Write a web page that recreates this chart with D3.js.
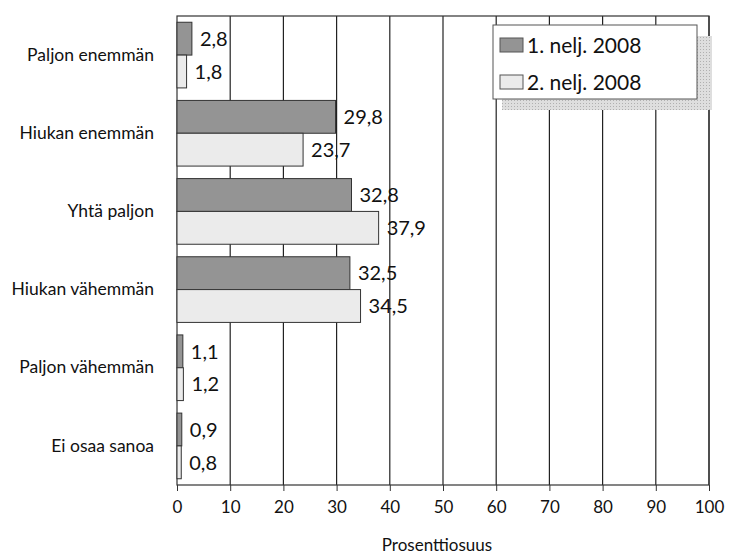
<!DOCTYPE html>
<html><head><meta charset="utf-8">
<script src="https://cdn.jsdelivr.net/npm/d3@7"></script>
<style>body{margin:0;background:#fff}svg{display:block}</style>
</head><body>
<script>
const categories = ["Paljon enemmän","Hiukan enemmän","Yhtä paljon","Hiukan vähemmän","Paljon vähemmän","Ei osaa sanoa"];
const seriesNames = ["1. nelj. 2008","2. nelj. 2008"];
const q1 = [2.8, 29.8, 32.8, 32.5, 1.1, 0.9];
const q2 = [1.8, 23.7, 37.9, 34.5, 1.2, 0.8];
const ticks = [0,10,20,30,40,50,60,70,80,90,100];
const colors = ["#949494","#ebebeb"];
const font = "Lato, 'DejaVu Sans', sans-serif";

const W=730,H=554;
const m={l:177,r:21,t:16,b:69};
const svg=d3.select("body").append("svg").attr("width",W).attr("height",H);
const defs=svg.append("defs");
const pat=defs.append("pattern").attr("id","shadowPat").attr("width",3).attr("height",3).attr("patternUnits","userSpaceOnUse");
pat.append("rect").attr("width",3).attr("height",3).attr("fill","#dedede");
pat.append("rect").attr("width",1).attr("height",1).attr("fill","#b0b0b0");
const x=d3.scaleLinear().domain([0,100]).range([m.l,W-m.r]);
const y=d3.scaleBand().domain(categories).range([m.t,H-m.b]).paddingInner(0.16).paddingOuter(0.08);
const y2=d3.scaleBand().domain([0,1]).range([0,y.bandwidth()]);

const g=svg.append("g");
g.selectAll("line.grid").data(ticks.slice(1)).join("line")
 .attr("x1",d=>x(d)).attr("x2",d=>x(d)).attr("y1",m.t).attr("y2",H-m.b)
 .attr("stroke","#222").attr("stroke-width",1.2);
g.append("rect").attr("x",m.l).attr("y",m.t).attr("width",x(100)-m.l).attr("height",H-m.b-m.t)
 .attr("fill","none").attr("stroke","#333").attr("stroke-width",1.2);

const data=[q1,q2];
categories.forEach((c,i)=>{
  data.forEach((s,j)=>{
    const v=s[i];
    const yy=y(c)+y2(j);
    g.append("rect").attr("x",x(0)).attr("y",yy).attr("width",x(v)-x(0)).attr("height",y2.bandwidth())
     .attr("fill",colors[j]).attr("stroke","#333").attr("stroke-width",1);
    g.append("text").attr("x",x(v)+8).attr("y",yy+y2.bandwidth()/2).attr("dy","0.36em")
     .attr("font-family",font).attr("font-size",20).attr("fill","#111")
     .text(String(v).replace(".",","));
  });
});

const xa=svg.append("g").attr("transform",`translate(0,${H-m.b})`)
 .call(d3.axisBottom(x).tickValues(ticks).tickSize(6).tickPadding(10));
xa.select(".domain").remove();
xa.selectAll("line").attr("stroke","#333");
xa.selectAll("text").attr("font-family",font).attr("font-size",17).attr("fill","#111");

const ya=svg.append("g").attr("transform",`translate(${m.l},0)`)
 .call(d3.axisLeft(y).tickSize(0).tickPadding(23));
ya.select(".domain").remove();
ya.selectAll("text").attr("font-family",font).attr("font-size",17.5).attr("fill","#111");

svg.append("text").attr("x",437).attr("y",H-3).attr("text-anchor","middle")
 .attr("font-family",font).attr("font-size",17).attr("fill","#111").text("Prosenttiosuus");

const lg=svg.append("g").attr("transform","translate(493,25)");
lg.append("rect").attr("x",9).attr("y",11).attr("width",210).attr("height",74).attr("fill","url(#shadowPat)");
lg.append("rect").attr("x",0).attr("y",0).attr("width",204).attr("height",74).attr("fill","#fff").attr("stroke","#555").attr("stroke-width",1);
seriesNames.forEach((n,j)=>{
  const yy=13+j*37;
  lg.append("rect").attr("x",7).attr("y",yy).attr("width",23).attr("height",14).attr("fill",colors[j]).attr("stroke","#555");
  lg.append("text").attr("x",34).attr("y",yy+7).attr("dy","0.36em").attr("font-family",font).attr("font-size",21).attr("fill","#111").text(n);
});
</script>
</body></html>
